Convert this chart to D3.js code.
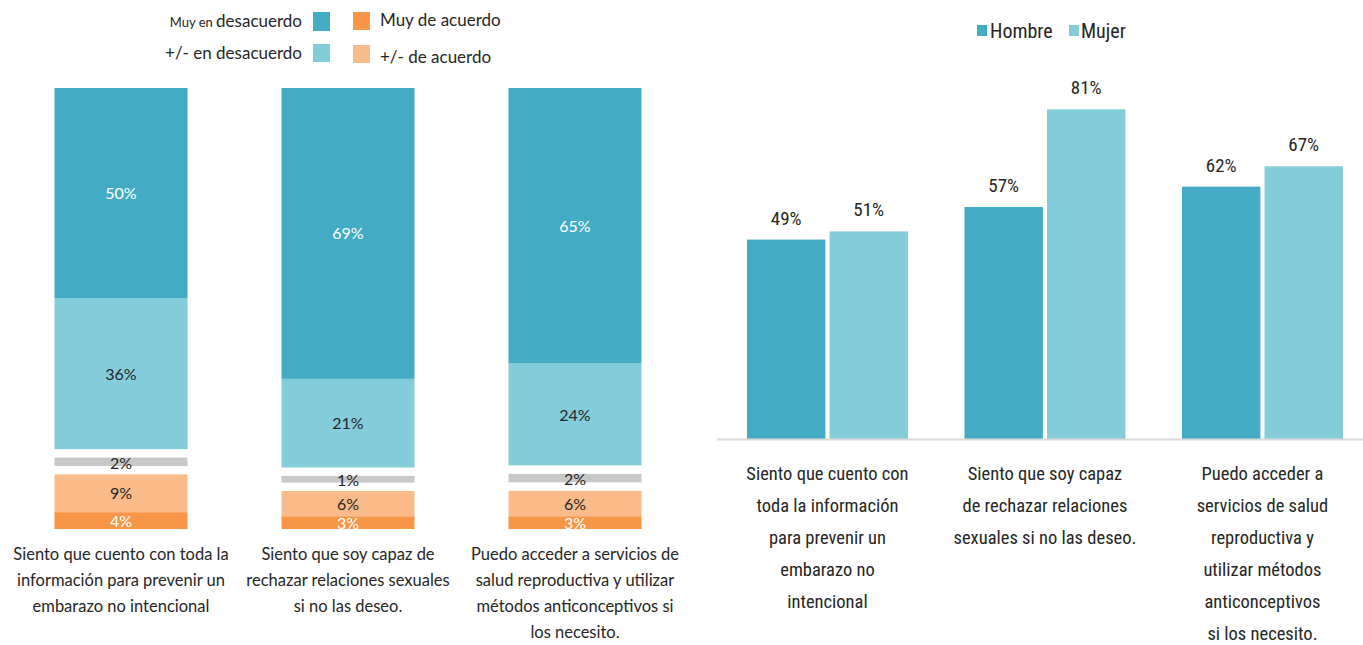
<!DOCTYPE html>
<html>
<head>
<meta charset="utf-8">
<script src="https://cdn.jsdelivr.net/npm/d3@7"></script>
<style>
  body { margin: 0; background: #fff; }
  svg { display: block; }
  text { fill: #262626; }
</style>
</head>
<body>
<svg id="chart" width="1363" height="645"></svg>
<script>
// left chart: stacked agreement per statement
const leftCats = [
  ["Siento que cuento con toda la", "información para prevenir un", "embarazo no intencional"],
  ["Siento que soy capaz de", "rechazar relaciones sexuales", "si no las deseo."],
  ["Puedo acceder a servicios de", "salud reproductiva y utilizar", "métodos anticonceptivos si", "los necesito."]
];
const muyDes = [50, 69, 65];
const masDes = [36, 21, 24];
const neutral = [2, 1, 2];
const masAc = [9, 6, 6];
const muyAc = [4, 3, 3];

// right chart: by sex
const rightCats = [
  ["Siento que cuento con", "toda la información", "para prevenir un", "embarazo no", "intencional"],
  ["Siento que soy capaz", "de rechazar relaciones", "sexuales si no las deseo."],
  ["Puedo acceder a", "servicios de salud", "reproductiva y", "utilizar métodos", "anticonceptivos", "si los necesito."]
];
const sexes = ["Hombre", "Mujer"];
const hombre = [49, 57, 62];
const mujer = [51, 81, 67];

const c = { dark: "#43acc4", light: "#83ccd9", orange: "#f79646", lorange: "#fabb8a", gray: "#c8c8c8" };

const svg = d3.select("#chart");

// ---------- left ----------
const left = svg.append("g");
const x = d3.scaleBand().domain([0, 1, 2]).range([7.5, 688.5]).paddingInner(0.414).paddingOuter(0.207);
const gap = 2, minNeutral = 1.6;

[0, 1, 2].forEach(i => {
  const segs = [
    { v: muyDes[i], color: c.dark, txt: "#fff" },
    { v: masDes[i], color: c.light, txt: "#262626" },
    { v: gap, color: null },
    { v: Math.max(neutral[i], minNeutral), label: neutral[i], color: c.gray, txt: "#262626", thin: true },
    { v: gap, color: null },
    { v: masAc[i], color: c.lorange, txt: "#262626" },
    { v: muyAc[i], color: c.orange, txt: "#fff" }
  ];
  const total = d3.sum(segs, d => d.v);
  const y = d3.scaleLinear().domain([0, total]).range([88, 529]);
  let acc = 0;
  segs.forEach(s => { s.y0 = acc; acc += s.v; s.y1 = acc; });
  const g = left.append("g");
  g.selectAll("rect").data(segs.filter(s => s.color)).join("rect")
    .attr("x", x(i)).attr("width", x.bandwidth())
    .attr("y", s => y(s.y0)).attr("height", s => y(s.y1) - y(s.y0))
    .attr("fill", s => s.color);
  g.selectAll("text").data(segs.filter(s => s.color)).join("text")
    .attr("x", x(i) + x.bandwidth() / 2)
    .attr("y", s => (y(s.y0) + y(s.y1)) / 2 + (s.thin ? 7 : 6))
    .attr("text-anchor", "middle")
    .style("font-family", "Lato, 'Open Sans', sans-serif").style("font-size", "16px")
    .style("fill", s => s.txt)
    .text(s => (s.label != null ? s.label : s.v) + "%");

  const t = left.append("text")
    .attr("text-anchor", "middle")
    .style("font-family", "Lato, 'Open Sans', sans-serif").style("font-size", "16.5px");
  leftCats[i].forEach((line, k) => {
    t.append("tspan").attr("x", x(i) + x.bandwidth() / 2).attr("y", 560 + k * 26).text(line);
  });
});

// left legend
const lf = "Lato, 'Open Sans', sans-serif";
const lt1 = left.append("text").attr("x", 302).attr("y", 27).attr("text-anchor", "end").style("font-family", lf);
lt1.append("tspan").style("font-size", "13px").text("Muy en ");
lt1.append("tspan").style("font-size", "17px").text("desacuerdo");
left.append("text").attr("x", 302).attr("y", 59).attr("text-anchor", "end").style("font-family", lf).style("font-size", "17px").text("+/- en desacuerdo");
left.append("rect").attr("x", 313).attr("y", 12).attr("width", 17).attr("height", 19).attr("fill", c.dark);
left.append("rect").attr("x", 313).attr("y", 44).attr("width", 17).attr("height", 18).attr("fill", c.light);
left.append("rect").attr("x", 353).attr("y", 12).attr("width", 17).attr("height", 18).attr("fill", c.orange);
left.append("rect").attr("x", 353).attr("y", 45).attr("width", 17).attr("height", 18).attr("fill", c.lorange);
left.append("text").attr("x", 380).attr("y", 26).style("font-family", lf).style("font-size", "17px").text("Muy de acuerdo");
left.append("text").attr("x", 380).attr("y", 63).style("font-family", lf).style("font-size", "17px").text("+/- de acuerdo");

// ---------- right ----------
const right = svg.append("g");
const rf = "'Liberation Sans Narrow', 'Roboto Condensed', sans-serif";
const x0 = d3.scaleBand().domain([0, 1, 2]).range([718.7, 1371.2]).paddingInner(0.26).paddingOuter(0.13);
const x1 = d3.scaleBand().domain(sexes).range([0, x0.bandwidth()]).paddingInner(0.05);
const yr = d3.scaleLinear().domain([0, 100]).range([439, 32]);
const vals = { Hombre: hombre, Mujer: mujer };
const colr = d3.scaleOrdinal().domain(sexes).range([c.dark, c.light]);

const rows = [];
[0, 1, 2].forEach(i => sexes.forEach(s => rows.push({ i, s, v: vals[s][i] })));

right.selectAll("rect.bar").data(rows).join("rect").attr("class", "bar")
  .attr("x", d => x0(d.i) + x1(d.s)).attr("width", x1.bandwidth())
  .attr("y", d => yr(d.v)).attr("height", d => yr(0) - yr(d.v))
  .attr("fill", d => colr(d.s));
right.selectAll("text.val").data(rows).join("text").attr("class", "val")
  .attr("x", d => x0(d.i) + x1(d.s) + x1.bandwidth() / 2)
  .attr("y", d => yr(d.v) - 15)
  .attr("text-anchor", "middle")
  .style("font-family", rf).style("font-size", "19px")
  .text(d => d.v + "%");

right.append("line").attr("x1", 717).attr("x2", 1363).attr("y1", yr(0) + 0.5).attr("y2", yr(0) + 0.5)
  .attr("stroke", "#d9d9d9").attr("stroke-width", 2);

rightCats.forEach((lines, i) => {
  const t = right.append("text").attr("text-anchor", "middle")
    .style("font-family", rf).style("font-size", "18.5px");
  lines.forEach((line, k) => {
    t.append("tspan").attr("x", x0(i) + x0.bandwidth() / 2).attr("y", 480 + k * 32).text(line);
  });
});

// right legend
const leg = right.append("g");
[["Hombre", 977, 990], ["Mujer", 1069, 1081]].forEach(([s, sx, tx]) => {
  leg.append("rect").attr("x", sx).attr("y", 25).attr("width", 10).attr("height", 11).attr("fill", colr(s));
  leg.append("text").attr("x", tx).attr("y", 38).style("font-family", rf).style("font-size", "20px").text(s);
});
</script>
</body>
</html>
